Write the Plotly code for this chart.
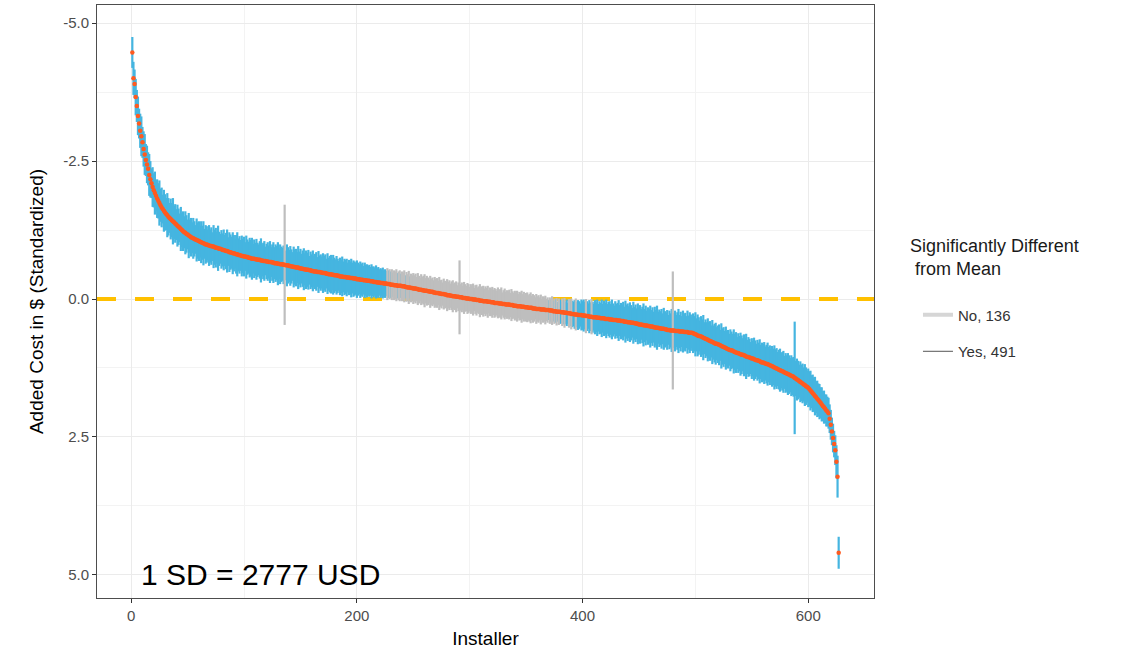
import plotly.graph_objects as go

# Installer index (sorted by estimate)
installer = list(range(1, 628))

# Standardized added-cost estimate per installer
estimate = [
    -4.47, -4.00, -3.90, -3.66, -3.50, -3.32, -3.18, -3.05, -2.95, -2.84,
    -2.72, -2.62, -2.52, -2.44, -2.36, -2.25, -2.17, -2.10, -2.03, -1.97,
    -1.92, -1.87, -1.82, -1.78, -1.74, -1.70, -1.66, -1.63, -1.60, -1.57,
    -1.54, -1.52, -1.49, -1.47, -1.45, -1.43, -1.41, -1.39, -1.37, -1.35,
    -1.33, -1.31, -1.29, -1.27, -1.25, -1.23, -1.21, -1.20, -1.18, -1.17,
    -1.15, -1.14, -1.12, -1.11, -1.10, -1.09, -1.08, -1.07, -1.06, -1.05,
    -1.04, -1.03, -1.02, -1.01, -1.00, -0.99, -0.99, -0.98, -0.97, -0.96,
    -0.96, -0.95, -0.95, -0.94, -0.93, -0.93, -0.92, -0.91, -0.91, -0.90,
    -0.89, -0.89, -0.88, -0.87, -0.87, -0.86, -0.85, -0.85, -0.84, -0.83,
    -0.83, -0.82, -0.81, -0.81, -0.80, -0.80, -0.79, -0.78, -0.78, -0.77,
    -0.77, -0.76, -0.76, -0.75, -0.75, -0.74, -0.73, -0.73, -0.73, -0.72,
    -0.72, -0.71, -0.71, -0.71, -0.70, -0.70, -0.69, -0.69, -0.69, -0.68,
    -0.68, -0.67, -0.67, -0.67, -0.66, -0.66, -0.65, -0.65, -0.65, -0.64,
    -0.64, -0.63, -0.63, -0.63, -0.62, -0.62, -0.61, -0.61, -0.61, -0.60,
    -0.60, -0.59, -0.59, -0.58, -0.58, -0.57, -0.57, -0.57, -0.56, -0.56,
    -0.55, -0.55, -0.54, -0.54, -0.53, -0.53, -0.53, -0.52, -0.52, -0.51,
    -0.51, -0.50, -0.50, -0.50, -0.49, -0.49, -0.49, -0.48, -0.48, -0.47,
    -0.47, -0.47, -0.46, -0.46, -0.45, -0.45, -0.45, -0.44, -0.44, -0.43,
    -0.43, -0.43, -0.42, -0.42, -0.41, -0.41, -0.41, -0.40, -0.40, -0.40,
    -0.39, -0.39, -0.39, -0.38, -0.38, -0.38, -0.37, -0.37, -0.37, -0.36,
    -0.36, -0.36, -0.35, -0.35, -0.35, -0.34, -0.34, -0.34, -0.33, -0.33,
    -0.33, -0.32, -0.32, -0.32, -0.31, -0.31, -0.31, -0.30, -0.30, -0.30,
    -0.29, -0.29, -0.29, -0.28, -0.28, -0.28, -0.27, -0.27, -0.27, -0.26,
    -0.26, -0.26, -0.25, -0.25, -0.25, -0.24, -0.24, -0.24, -0.24, -0.23,
    -0.23, -0.23, -0.22, -0.22, -0.21, -0.21, -0.21, -0.20, -0.20, -0.19,
    -0.19, -0.19, -0.18, -0.18, -0.17, -0.17, -0.17, -0.16, -0.16, -0.15,
    -0.15, -0.15, -0.14, -0.14, -0.13, -0.13, -0.13, -0.12, -0.12, -0.11,
    -0.11, -0.11, -0.10, -0.10, -0.09, -0.09, -0.09, -0.08, -0.08, -0.07,
    -0.07, -0.07, -0.06, -0.06, -0.05, -0.05, -0.05, -0.04, -0.04, -0.04,
    -0.03, -0.03, -0.03, -0.02, -0.02, -0.02, -0.01, -0.01, -0.01, 0.00,
    0.00, 0.00, 0.01, 0.01, 0.01, 0.02, 0.02, 0.02, 0.03, 0.03,
    0.03, 0.04, 0.04, 0.04, 0.04, 0.05, 0.05, 0.05, 0.06, 0.06,
    0.06, 0.07, 0.07, 0.07, 0.07, 0.08, 0.08, 0.08, 0.09, 0.09,
    0.09, 0.10, 0.10, 0.10, 0.10, 0.11, 0.11, 0.11, 0.12, 0.12,
    0.12, 0.13, 0.13, 0.13, 0.13, 0.14, 0.14, 0.14, 0.15, 0.15,
    0.15, 0.16, 0.16, 0.16, 0.16, 0.17, 0.17, 0.17, 0.18, 0.18,
    0.18, 0.18, 0.19, 0.19, 0.19, 0.19, 0.20, 0.20, 0.20, 0.20,
    0.21, 0.21, 0.21, 0.22, 0.22, 0.22, 0.23, 0.23, 0.23, 0.23,
    0.24, 0.24, 0.24, 0.25, 0.25, 0.25, 0.26, 0.26, 0.26, 0.27,
    0.27, 0.27, 0.28, 0.28, 0.28, 0.29, 0.29, 0.29, 0.29, 0.30,
    0.30, 0.30, 0.31, 0.31, 0.31, 0.32, 0.32, 0.32, 0.33, 0.33,
    0.33, 0.33, 0.34, 0.34, 0.34, 0.35, 0.35, 0.35, 0.35, 0.36,
    0.36, 0.36, 0.36, 0.37, 0.37, 0.37, 0.38, 0.38, 0.38, 0.38,
    0.39, 0.39, 0.39, 0.40, 0.40, 0.40, 0.41, 0.41, 0.41, 0.42,
    0.42, 0.42, 0.43, 0.43, 0.43, 0.44, 0.44, 0.45, 0.45, 0.46,
    0.46, 0.46, 0.47, 0.47, 0.48, 0.48, 0.48, 0.49, 0.49, 0.50,
    0.50, 0.50, 0.51, 0.51, 0.52, 0.52, 0.52, 0.53, 0.53, 0.54,
    0.54, 0.54, 0.55, 0.55, 0.56, 0.56, 0.56, 0.57, 0.57, 0.57,
    0.57, 0.58, 0.58, 0.58, 0.58, 0.59, 0.59, 0.59, 0.59, 0.60,
    0.60, 0.60, 0.60, 0.61, 0.61, 0.61, 0.61, 0.62, 0.63, 0.64,
    0.65, 0.66, 0.67, 0.67, 0.68, 0.69, 0.70, 0.71, 0.72, 0.73,
    0.74, 0.75, 0.76, 0.77, 0.78, 0.79, 0.80, 0.81, 0.81, 0.82,
    0.83, 0.84, 0.85, 0.86, 0.87, 0.88, 0.89, 0.90, 0.91, 0.92,
    0.93, 0.93, 0.94, 0.95, 0.96, 0.97, 0.98, 0.98, 0.99, 1.00,
    1.01, 1.01, 1.02, 1.03, 1.04, 1.05, 1.05, 1.06, 1.07, 1.08,
    1.08, 1.09, 1.10, 1.11, 1.11, 1.12, 1.13, 1.14, 1.15, 1.15,
    1.16, 1.17, 1.18, 1.18, 1.19, 1.20, 1.21, 1.22, 1.23, 1.24,
    1.25, 1.26, 1.27, 1.28, 1.29, 1.30, 1.31, 1.32, 1.33, 1.34,
    1.35, 1.36, 1.37, 1.38, 1.39, 1.40, 1.41, 1.43, 1.44, 1.46,
    1.47, 1.49, 1.50, 1.52, 1.53, 1.55, 1.56, 1.58, 1.59, 1.61,
    1.63, 1.66, 1.68, 1.71, 1.73, 1.76, 1.78, 1.81, 1.83, 1.86,
    1.88, 1.91, 1.94, 1.96, 1.99, 2.02, 2.04, 2.07, 2.17, 2.28,
    2.40, 2.52, 2.63, 2.74, 2.95, 3.22, 4.60,
]

# Half-length of each installer's confidence interval
half_width = [
    0.28, 0.30, 0.26, 0.33, 0.29, 0.35, 0.27, 0.31, 0.36, 0.28,
    0.32, 0.37, 0.29, 0.34, 0.30, 0.38, 0.33, 0.27, 0.36, 0.31,
    0.39, 0.28, 0.35, 0.32, 0.41, 0.30, 0.36, 0.26, 0.38, 0.33,
    0.29, 0.40, 0.34, 0.27, 0.37, 0.31, 0.42, 0.30, 0.35, 0.28,
    0.38, 0.33, 0.26, 0.40, 0.31, 0.36, 0.29, 0.39, 0.34, 0.27,
    0.41, 0.30, 0.35, 0.28, 0.37, 0.32, 0.26, 0.39, 0.33, 0.36,
    0.29, 0.38, 0.31, 0.40, 0.27, 0.35, 0.33, 0.28, 0.37, 0.30,
    0.34, 0.26, 0.39, 0.32, 0.36, 0.29, 0.41, 0.31, 0.27, 0.35,
    0.30, 0.37, 0.28, 0.33, 0.39, 0.26, 0.36, 0.32, 0.29, 0.38,
    0.33, 0.27, 0.35, 0.40, 0.30, 0.34, 0.28, 0.37, 0.31, 0.36,
    0.26, 0.39, 0.32, 0.29, 0.36, 0.33, 0.38, 0.27, 0.35, 0.30,
    0.37, 0.31, 0.28, 0.34, 0.40, 0.29, 0.33, 0.36, 0.26, 0.32,
    0.35, 0.30, 0.38, 0.27, 0.33, 0.37, 0.29, 0.34, 0.31, 0.39,
    0.28, 0.36, 0.32, 0.30, 0.35, 1.09, 0.27, 0.38, 0.33, 0.29,
    0.36, 0.31, 0.26, 0.37, 0.32, 0.34, 0.28, 0.39, 0.30, 0.35,
    0.27, 0.33, 0.38, 0.29, 0.35, 0.31, 0.36, 0.26, 0.34, 0.30,
    0.37, 0.28, 0.32, 0.35, 0.27, 0.38, 0.30, 0.33, 0.29, 0.36,
    0.31, 0.34, 0.27, 0.37, 0.30, 0.33, 0.35, 0.28, 0.36, 0.32,
    0.29, 0.35, 0.31, 0.27, 0.34, 0.30, 0.36, 0.28, 0.33, 0.31,
    0.34, 0.27, 0.32, 0.30, 0.35, 0.28, 0.33, 0.31, 0.29, 0.34,
    0.30, 0.27, 0.33, 0.29, 0.31, 0.26, 0.32, 0.28, 0.30, 0.27,
    0.29, 0.26, 0.31, 0.27, 0.28, 0.25, 0.30, 0.26, 0.28, 0.24,
    0.27, 0.25, 0.28, 0.24, 0.26, 0.23, 0.29, 0.25, 0.27, 0.24,
    0.28, 0.22, 0.27, 0.25, 0.29, 0.23, 0.26, 0.28, 0.22, 0.27,
    0.25, 0.29, 0.21, 0.27, 0.24, 0.30, 0.20, 0.26, 0.23, 0.28,
    0.24, 0.27, 0.22, 0.29, 0.25, 0.21, 0.28, 0.24, 0.26, 0.30,
    0.23, 0.27, 0.25, 0.21, 0.29, 0.24, 0.26, 0.22, 0.28, 0.25,
    0.27, 0.22, 0.30, 0.24, 0.26, 0.21, 0.28, 0.25, 0.23, 0.29,
    0.24, 0.27, 0.22, 0.26, 0.29, 0.23, 0.25, 0.28, 0.21, 0.26,
    0.67, 0.24, 0.27, 0.22, 0.29, 0.25, 0.23, 0.28, 0.26, 0.22,
    0.27, 0.24, 0.29, 0.21, 0.26, 0.28, 0.23, 0.25, 0.30, 0.22,
    0.26, 0.28, 0.23, 0.27, 0.24, 0.29, 0.21, 0.26, 0.25, 0.28,
    0.23, 0.27, 0.25, 0.22, 0.28, 0.24, 0.26, 0.29, 0.21, 0.25,
    0.28, 0.23, 0.26, 0.24, 0.27, 0.22, 0.29, 0.25, 0.23, 0.27,
    0.24, 0.28, 0.22, 0.26, 0.25, 0.29, 0.23, 0.27, 0.21, 0.26,
    0.27, 0.23, 0.25, 0.28, 0.22, 0.26, 0.24, 0.20, 0.27, 0.23,
    0.25, 0.21, 0.27, 0.19, 0.24, 0.22, 0.26, 0.20, 0.23, 0.18,
    0.24, 0.20, 0.26, 0.19, 0.23, 0.21, 0.25, 0.18, 0.24, 0.22,
    0.20, 0.25, 0.22, 0.27, 0.21, 0.24, 0.19, 0.26, 0.23, 0.28,
    0.24, 0.22, 0.26, 0.29, 0.23, 0.27, 0.25, 0.21, 0.28, 0.26,
    0.29, 0.25, 0.31, 0.27, 0.23, 0.30, 0.26, 0.32, 0.28, 0.24,
    0.31, 0.27, 0.33, 0.25, 0.30, 0.28, 0.34, 0.26, 0.32, 0.29,
    0.35, 0.27, 0.31, 0.33, 0.28, 0.36, 0.30, 0.26, 0.34, 0.29,
    0.32, 0.37, 0.28, 0.33, 0.30, 0.35, 0.27, 0.38, 0.31, 0.34,
    0.29, 0.36, 0.32, 0.27, 0.38, 0.30, 0.34, 0.28, 0.37, 0.31,
    0.35, 0.28, 0.33, 0.39, 0.30, 0.36, 0.27, 0.34, 0.31, 0.38,
    0.30, 0.35, 0.28, 0.37, 0.32, 0.40, 0.29, 0.34, 0.31, 0.36,
    0.28, 0.38, 0.33, 0.30, 0.36, 0.27, 0.35, 0.31, 0.39, 1.07,
    0.32, 0.37, 0.29, 0.34, 0.40, 0.30, 0.36, 0.28, 0.38, 0.33,
    0.35, 0.29, 0.39, 0.31, 0.37, 0.33, 0.28, 0.36, 0.32, 0.40,
    0.30, 0.38, 0.34, 0.28, 0.37, 0.32, 0.41, 0.29, 0.35, 0.31,
    0.39, 0.33, 0.36, 0.29, 0.40, 0.31, 0.35, 0.38, 0.30, 0.34,
    0.37, 0.28, 0.41, 0.33, 0.36, 0.30, 0.39, 0.32, 0.35, 0.29,
    0.38, 0.34, 0.31, 0.40, 0.33, 0.37, 0.29, 0.36, 0.32, 0.39,
    0.35, 0.30, 0.38, 0.33, 0.41, 0.31, 0.36, 0.34, 0.29, 0.37,
    0.32, 0.39, 0.35, 0.30, 0.37, 0.33, 0.40, 0.31, 0.36, 0.34,
    0.38, 0.31, 0.35, 0.39, 0.32, 0.36, 0.30, 0.37, 0.33, 0.40,
    0.34, 0.37, 0.31, 0.36, 0.39, 0.32, 0.35, 0.38, 0.30, 0.36,
    0.33, 0.38, 0.35, 0.31, 0.37, 0.34, 0.36, 1.02, 0.32, 0.38,
    0.35, 0.30, 0.37, 0.33, 0.36, 0.31, 0.38, 0.34, 0.29, 0.35,
    0.32, 0.36, 0.30, 0.34, 0.31, 0.35, 0.29, 0.33, 0.30, 0.32,
    0.28, 0.31, 0.27, 0.30, 0.26, 0.29, 0.27, 0.28, 0.26, 0.27,
    0.25, 0.26, 0.24, 0.27, 0.30, 0.38, 0.29,
]

legend_title = "Significantly Different<br> from Mean"
legend_labels = ["No, 136", "Yes, 491"]
x_ticks = [0, 200, 400, 600]
y_ticks = [-5.0, -2.5, 0.0, 2.5, 5.0]
y_ticktext = ["-5.0", "-2.5", "0.0", "2.5", "5.0"]
sd_note = "1 SD = 2777 USD"
mean_line = 0.0
x_range = [-30.3, 658.3]

BLUE = "#45B5E0"
GREY = "#BEBEBE"
ORANGE = "#FF5A1F"
GOLD = "#FFC000"
FONT = "Liberation Sans, Arial, sans-serif"


def segments(indices):
    xs, ys = [], []
    for k in indices:
        xs += [installer[k], installer[k], None]
        ys += [estimate[k] - half_width[k], estimate[k] + half_width[k], None]
    return xs, ys


sig_idx = [k for k in range(len(installer))
           if (estimate[k] - half_width[k]) > 0 or (estimate[k] + half_width[k]) < 0]
sig_set = set(sig_idx)
non_idx = [k for k in range(len(installer)) if k not in sig_set]

fig = go.Figure()

# reference line at the mean (drawn first, beneath the intervals)
fig.add_trace(go.Scatter(x=x_range, y=[mean_line, mean_line], mode="lines",
                         line=dict(color=GOLD, width=4, dash="19px,19px"),
                         showlegend=False, hoverinfo="skip"))

bx, by = segments(sig_idx)
fig.add_trace(go.Scatter(x=bx, y=by, mode="lines", line=dict(color=BLUE, width=2.2),
                         showlegend=False, hoverinfo="skip"))
gx, gy = segments(non_idx)
fig.add_trace(go.Scatter(x=gx, y=gy, mode="lines", line=dict(color=GREY, width=2.2),
                         showlegend=False, hoverinfo="skip"))

fig.add_trace(go.Scatter(x=installer, y=estimate, mode="markers",
                         marker=dict(color=ORANGE, size=4.5, line=dict(width=0)),
                         showlegend=False))

# legend-only entries
fig.add_trace(go.Scatter(x=[None], y=[None], mode="lines", name=legend_labels[0],
                         line=dict(color="#D6D6D6", width=4), legendgroup="a"))
fig.add_trace(go.Scatter(x=[None], y=[None], mode="lines", name=legend_labels[1],
                         line=dict(color="#555555", width=1), legendgroup="b"))

fig.add_annotation(x=7, y=5.0, xref="x", yref="y", text=sd_note, showarrow=False,
                   xanchor="left", yanchor="middle",
                   font=dict(family=FONT, size=30, color="#000000"))

fig.add_annotation(x=1.0438, y=0.613, xref="paper", yref="paper", text=legend_title,
                   showarrow=False, xanchor="left", yanchor="top", align="left",
                   font=dict(family=FONT, size=18, color="#1A1A1A"))

axis_common = dict(
    showline=True, mirror=True, linecolor="#4D4D4D", linewidth=1,
    ticks="outside", ticklen=4, tickcolor="#333333",
    tickfont=dict(family=FONT, size=15, color="#4D4D4D"),
    showgrid=True, gridcolor="#EBEBEB", gridwidth=1.2, zeroline=False,
)

fig.update_layout(
    width=1147, height=657,
    margin=dict(l=97, r=273, t=5, b=59),
    paper_bgcolor="white", plot_bgcolor="white",
    font=dict(family=FONT),
    xaxis=dict(range=x_range, tickmode="array", tickvals=x_ticks,
               title=dict(text="Installer", font=dict(family=FONT, size=19, color="#000000"),
                          standoff=8),
               minor=dict(tickmode="array", tickvals=[100, 300, 500], showgrid=True,
                          gridcolor="#F3F3F3", gridwidth=0.6, ticks=""),
               **axis_common),
    yaxis=dict(range=[5.42, -5.33], tickmode="array", tickvals=y_ticks, ticktext=y_ticktext,
               title=dict(text="Added Cost in $ (Standardized)",
                          font=dict(family=FONT, size=19, color="#000000"), standoff=14),
               minor=dict(tickmode="array", tickvals=[-3.75, -1.25, 1.25, 3.75], showgrid=True,
                          gridcolor="#F3F3F3", gridwidth=0.6, ticks=""),
               **axis_common),
    legend=dict(
        x=1.0566, y=0.505, xanchor="left", yanchor="top",
        font=dict(family=FONT, size=15, color="#333333"),
        tracegroupgap=14, bgcolor="rgba(0,0,0,0)",
    ),
)

fig.write_html("out.html")
